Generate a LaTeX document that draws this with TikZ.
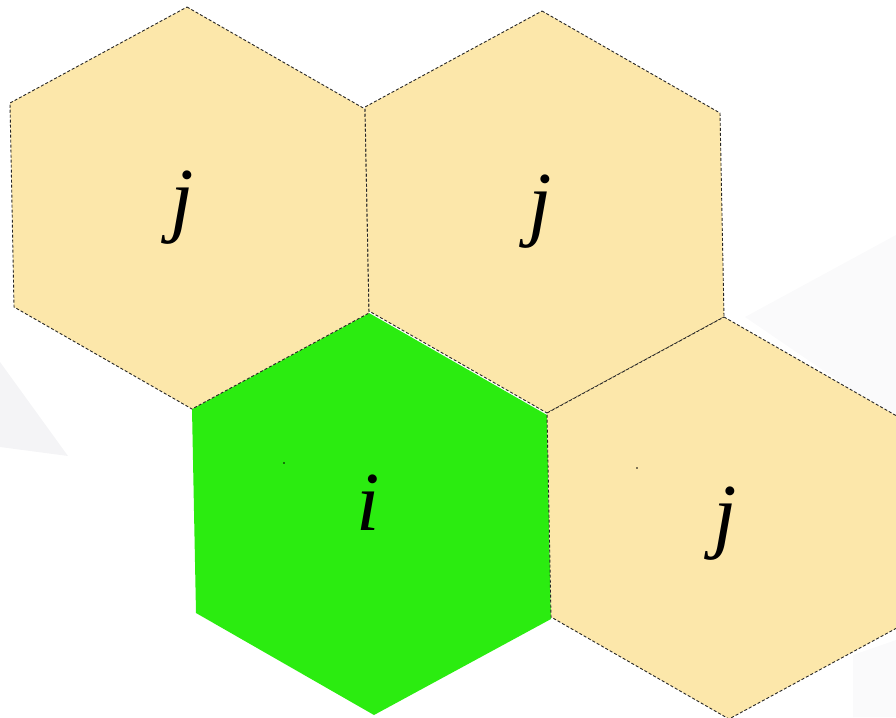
\documentclass[tikz,border=0pt]{standalone}
\usepackage{fontspec}
\setmainfont{Liberation Serif}
\usepackage{tikz}

\definecolor{cellbeige}{RGB}{252,231,170}
\definecolor{cellgreen}{RGB}{43,236,16}
\definecolor{shadegray}{RGB}{244,244,246}
\definecolor{shadelight}{RGB}{250,250,251}

\tikzset{
  cell/.style={fill=cellbeige, draw=black!85, line width=0.9pt, dash pattern=on 3pt off 2pt},
  focus/.style={fill=cellgreen},
  lbl/.style={font=\fontsize{84}{90}\selectfont\itshape, inner sep=0pt},
  pics/hexcell/.style={code={
    \path[#1] (0,0) -- ++(178,102) -- ++(4,204) -- ++(-177,96)
      -- ++(-178,-102) -- ++(-4,-204) -- cycle;}}
}

\begin{document}
\begin{tikzpicture}[x=1pt, y=-1pt]
  \useasboundingbox (0,0) rectangle (896,717);
  \clip (0,0) rectangle (896,717);
  % faint background shading
  \fill[shadegray] (0,362) -- (68,456) -- (0,447) -- cycle;
  \fill[shadelight] (745,317) -- (896,235) -- (896,420) -- cycle;
  \fill[shadelight] (853,655) -- (896,640) -- (896,717) -- (853,717) -- cycle;
  % cells
  \pic at (369,313) {hexcell=focus};
  \pic at (187,7) {hexcell=cell};
  \pic at (542,11) {hexcell=cell};
  \pic at (724,317) {hexcell=cell};
  % specks
  \fill (284,463) circle (0.8);
  \fill (637,468) circle (0.8);
  % labels
  \node[lbl] (jtl) at (182,208) {j};
  \node[lbl] (jtr) at (540,212) {j};
  \node[lbl] (ic) at (368,503) {i};
  \node[lbl] (jbr) at (725,524) {j};
\end{tikzpicture}
\end{document}
